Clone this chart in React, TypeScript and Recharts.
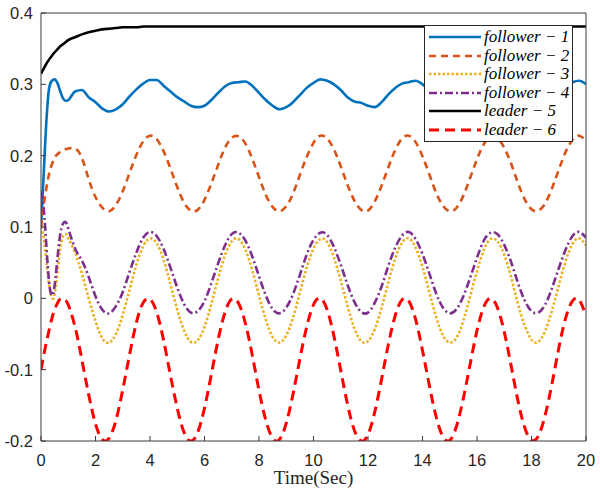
import React from 'react';
import { LineChart, Line, XAxis, YAxis, Legend } from 'recharts';

const time = [
  0, 0.1, 0.2, 0.3, 0.4, 0.5, 0.6, 0.7, 0.8, 0.9, 1.0,
  1.25, 1.5, 1.75, 2.0,
  2.25, 2.5, 2.75, 3.0, 3.25, 3.5, 3.75, 4.0, 4.25, 4.5, 4.75, 5.0,
  5.25, 5.5, 5.75, 6.0, 6.25, 6.5, 6.75, 7.0, 7.25, 7.5, 7.75, 8.0,
  8.25, 8.5, 8.75, 9.0, 9.25, 9.5, 9.75, 10.0, 10.25, 10.5, 10.75, 11.0,
  11.25, 11.5, 11.75, 12.0, 12.25, 12.5, 12.75, 13.0, 13.25, 13.5, 13.75, 14.0,
  14.25, 14.5, 14.75, 15.0, 15.25, 15.5, 15.75, 16.0, 16.25, 16.5, 16.75, 17.0,
  17.25, 17.5, 17.75, 18.0, 18.25, 18.5, 18.75, 19.0, 19.25, 19.5, 19.75, 20.0,
];

const follower1 = [
  0.100, 0.175, 0.250, 0.295, 0.305, 0.307, 0.302, 0.291, 0.281, 0.277, 0.278,
  0.290, 0.292, 0.282, 0.275,
  0.266, 0.262, 0.265, 0.272, 0.283, 0.293, 0.301, 0.306, 0.306, 0.298, 0.290, 0.282,
  0.276, 0.270, 0.268, 0.270, 0.278, 0.288, 0.297, 0.302, 0.303, 0.304, 0.298, 0.288,
  0.278, 0.270, 0.265, 0.268, 0.275, 0.285, 0.295, 0.302, 0.307, 0.305, 0.300, 0.292,
  0.282, 0.276, 0.274, 0.270, 0.268, 0.275, 0.286, 0.295, 0.301, 0.303, 0.305, 0.300,
  0.292, 0.283, 0.275, 0.270, 0.268, 0.272, 0.280, 0.290, 0.299, 0.304, 0.305, 0.302,
  0.294, 0.285, 0.277, 0.271, 0.268, 0.272, 0.281, 0.290, 0.298, 0.303, 0.305, 0.300,
];

const follower2 = [
  0.100, 0.130, 0.155, 0.175, 0.188, 0.197, 0.202, 0.205, 0.207, 0.209, 0.210,
  0.210, 0.197, 0.167, 0.142,
  0.127, 0.122, 0.131, 0.150, 0.176, 0.201, 0.220, 0.228, 0.223, 0.206, 0.182, 0.156,
  0.134, 0.123, 0.124, 0.138, 0.161, 0.187, 0.211, 0.225, 0.227, 0.217, 0.196, 0.170,
  0.145, 0.128, 0.122, 0.129, 0.147, 0.173, 0.198, 0.218, 0.228, 0.224, 0.209, 0.185,
  0.159, 0.137, 0.124, 0.123, 0.136, 0.158, 0.184, 0.208, 0.224, 0.228, 0.219, 0.199,
  0.174, 0.148, 0.130, 0.122, 0.127, 0.144, 0.169, 0.195, 0.216, 0.227, 0.225, 0.211,
  0.189, 0.162, 0.139, 0.125, 0.123, 0.133, 0.154, 0.180, 0.205, 0.222, 0.228, 0.221,
];

const follower3 = [
  0.100, 0.085, 0.052, 0.018, 0.001, 0.005, 0.035, 0.068, 0.086, 0.090, 0.084,
  0.064, 0.035, 0.000, -0.032,
  -0.056, -0.062, -0.050, -0.023, 0.012, 0.047, 0.073, 0.084, 0.077, 0.054, 0.020, -0.016,
  -0.045, -0.061, -0.059, -0.040, -0.008, 0.028, 0.060, 0.080, 0.083, 0.068, 0.040, 0.004,
  -0.030, -0.054, -0.062, -0.052, -0.027, 0.008, 0.043, 0.070, 0.083, 0.079, 0.057, 0.025,
  -0.011, -0.042, -0.060, -0.060, -0.043, -0.013, 0.023, 0.056, 0.078, 0.084, 0.071, 0.044,
  0.009, -0.026, -0.052, -0.062, -0.055, -0.031, 0.003, 0.038, 0.068, 0.083, 0.080, 0.061,
  0.030, -0.007, -0.038, -0.058, -0.061, -0.046, -0.017, 0.018, 0.052, 0.076, 0.084, 0.074,
];

const follower4 = [
  0.150, 0.125, 0.072, 0.022, 0.004, 0.018, 0.055, 0.088, 0.104, 0.107, 0.098,
  0.070, 0.053, 0.030, 0.003,
  -0.016, -0.021, -0.011, 0.009, 0.037, 0.064, 0.085, 0.093, 0.087, 0.069, 0.043, 0.015,
  -0.008, -0.020, -0.018, -0.004, 0.021, 0.049, 0.074, 0.090, 0.092, 0.081, 0.059, 0.031,
  0.004, -0.015, -0.021, -0.013, 0.006, 0.033, 0.061, 0.082, 0.092, 0.089, 0.072, 0.047,
  0.019, -0.005, -0.019, -0.020, -0.006, 0.017, 0.046, 0.071, 0.088, 0.093, 0.083, 0.062,
  0.035, 0.007, -0.013, -0.021, -0.015, 0.003, 0.029, 0.057, 0.081, 0.092, 0.090, 0.075,
  0.051, 0.022, -0.003, -0.018, -0.020, -0.009, 0.014, 0.042, 0.068, 0.087, 0.093, 0.085,
];

const leader5 = [
  0.315, 0.322, 0.329, 0.335, 0.340, 0.345, 0.349, 0.353, 0.356, 0.359, 0.362,
  0.366, 0.370, 0.373, 0.375,
  0.377, 0.378, 0.379, 0.380, 0.380, 0.380, 0.381, 0.381, 0.381, 0.381, 0.381, 0.381,
  0.381, 0.381, 0.381, 0.381, 0.381, 0.381, 0.381, 0.381, 0.381, 0.381, 0.381, 0.381,
  0.381, 0.381, 0.381, 0.381, 0.381, 0.381, 0.381, 0.381, 0.381, 0.381, 0.381, 0.381,
  0.381, 0.381, 0.381, 0.381, 0.381, 0.381, 0.381, 0.381, 0.381, 0.381, 0.381, 0.381,
  0.381, 0.381, 0.381, 0.381, 0.381, 0.381, 0.381, 0.381, 0.381, 0.381, 0.381, 0.381,
  0.381, 0.381, 0.381, 0.381, 0.381, 0.381, 0.381, 0.381, 0.381, 0.381, 0.381, 0.381,
];

const leader6 = [
  -0.100, -0.080, -0.061, -0.044, -0.028, -0.016, -0.007, -0.001, 0.000, -0.003, -0.009,
  -0.040, -0.086, -0.135, -0.176,
  -0.198, -0.196, -0.171, -0.128, -0.079, -0.034, -0.006, -0.001, -0.020, -0.059, -0.108, -0.154,
  -0.188, -0.200, -0.188, -0.154, -0.107, -0.058, -0.020, -0.001, -0.007, -0.035, -0.079, -0.129,
  -0.171, -0.196, -0.198, -0.175, -0.134, -0.085, -0.040, -0.009, 0.000, -0.016, -0.053, -0.101,
  -0.149, -0.185, -0.200, -0.191, -0.159, -0.113, -0.064, -0.024, -0.002, -0.004, -0.030, -0.073,
  -0.122, -0.166, -0.194, -0.199, -0.179, -0.140, -0.092, -0.045, -0.012, 0.000, -0.013, -0.047,
  -0.094, -0.143, -0.181, -0.199, -0.193, -0.164, -0.120, -0.070, -0.028, -0.004, -0.002, -0.025,
];

const xTicks = [0, 2, 4, 6, 8, 10, 12, 14, 16, 18, 20];
const yTicks = [-0.2, -0.1, 0, 0.1, 0.2, 0.3, 0.4];
const seriesNames = ['follower − 1', 'follower − 2', 'follower − 3', 'follower − 4', 'leader − 5', 'leader − 6'];
const xLabel = 'Time(Sec)';

const seriesStyle = [
  { key: 'f1', color: '#0072BD', dash: undefined, width: 2.6, curve: 'monotone' },
  { key: 'f2', color: '#D95319', dash: '7 5', width: 2.6, curve: 'natural' },
  { key: 'f3', color: '#EDB120', dash: '2.5 2', width: 2.6, curve: 'natural' },
  { key: 'f4', color: '#7E2F8E', dash: '8 3 2 3', width: 2.6, curve: 'natural' },
  { key: 'l5', color: '#000000', dash: undefined, width: 2.6, curve: 'monotone' },
  { key: 'l6', color: '#FF0000', dash: '10 6', width: 3, curve: 'natural' },
];

const seriesValues = [follower1, follower2, follower3, follower4, leader5, leader6];

const data = time.map((t, i) => {
  const row: Record<string, number> = { t };
  seriesStyle.forEach((s, k) => {
    row[s.key] = seriesValues[k][i];
  });
  return row;
});

const AXIS = '#3a3a3a';
const TEXT = '#262626';
const tickFont = { fill: TEXT, fontSize: 16.5, fontFamily: 'Liberation Sans, Arial, sans-serif' };

const renderLegend = () => (
  <div
    style={{
      border: '1px solid #262626',
      background: '#ffffff',
      padding: '2px 4px 2px 4px',
      boxSizing: 'border-box',
      width: 149,
    }}
  >
    {seriesStyle.map((s, i) => (
      <div key={s.key} style={{ display: 'flex', alignItems: 'center', height: 18.5 }}>
        <svg width={52} height={10} style={{ display: 'block', flex: 'none' }}>
          <line x1={0} y1={5} x2={52} y2={5} stroke={s.color} strokeWidth={s.width} strokeDasharray={s.dash} />
        </svg>
        <span
          style={{
            marginLeft: 3,
            fontFamily: 'Liberation Serif, Times New Roman, serif',
            fontStyle: 'italic',
            fontSize: 17,
            color: '#000',
            whiteSpace: 'nowrap',
            lineHeight: '18px',
          }}
        >
          {seriesNames[i]}
        </span>
      </div>
    ))}
  </div>
);

export default function App() {
  return (
    <div style={{ position: 'absolute', left: 0, top: 0, width: 600, height: 496, background: '#fff' }}>
      <LineChart width={600} height={496} data={data} margin={{ top: 12, right: 13, bottom: 0, left: 0 }}>
        <XAxis
          xAxisId="b"
          dataKey="t"
          type="number"
          domain={[0, 20]}
          ticks={xTicks}
          allowDataOverflow
          height={55}
          tickSize={-5}
          tickMargin={18}
          stroke={AXIS}
          tick={tickFont}
          label={{
            value: xLabel,
            position: 'insideBottom',
            offset: 12,
            style: { fill: TEXT, fontSize: 19, fontFamily: 'Liberation Serif, Times New Roman, serif' },
          }}
        />
        <XAxis
          xAxisId="t"
          orientation="top"
          dataKey="t"
          type="number"
          domain={[0, 20]}
          ticks={xTicks}
          allowDataOverflow
          height={1}
          tickSize={-5}
          stroke={AXIS}
          tick={false}
        />
        <YAxis
          yAxisId="l"
          type="number"
          domain={[-0.2, 0.4]}
          ticks={yTicks}
          allowDataOverflow
          width={41}
          tickSize={-5}
          tickMargin={13}
          stroke={AXIS}
          tick={tickFont}
        />
        <YAxis
          yAxisId="r"
          orientation="right"
          type="number"
          domain={[-0.2, 0.4]}
          ticks={yTicks}
          allowDataOverflow
          width={1}
          tickSize={-5}
          stroke={AXIS}
          tick={false}
        />
        {seriesStyle.map((s, i) => (
          <Line
            key={s.key}
            xAxisId="b"
            yAxisId="l"
            dataKey={s.key}
            name={seriesNames[i]}
            type={s.curve as any}
            stroke={s.color}
            strokeWidth={s.width}
            strokeDasharray={s.dash}
            dot={false}
            activeDot={false}
            isAnimationActive={false}
          />
        ))}
        <Legend
          content={renderLegend}
          layout="vertical"
          align="center"
          verticalAlign="middle"
          wrapperStyle={{ left: 424, top: 25, width: 'auto', height: 'auto' }}
        />
      </LineChart>
    </div>
  );
}
